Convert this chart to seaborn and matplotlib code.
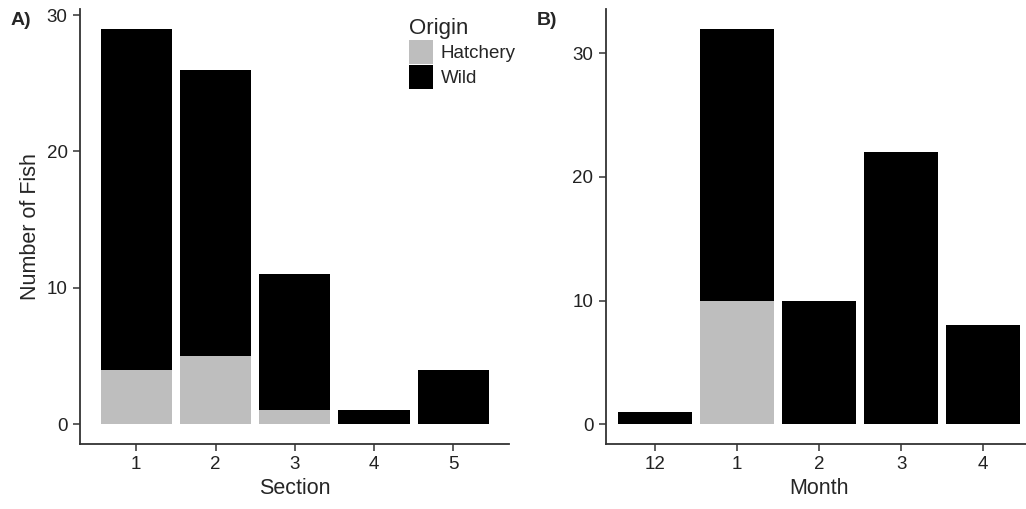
import numpy as np
import pandas as pd
import matplotlib
matplotlib.use("Agg")
import matplotlib.pyplot as plt
from matplotlib.patches import Patch
import seaborn as sns

# panel A: fish counts by river section
sections = ["1", "2", "3", "4", "5"]
hatchery_section = [4, 5, 1, 0, 0]
wild_section = [25, 21, 10, 1, 4]

# panel B: fish counts by month
months = ["12", "1", "2", "3", "4"]
hatchery_month = [0, 10, 0, 0, 0]
wild_month = [1, 22, 10, 22, 8]

grey = "#bebebe"
sns.set_style("ticks")
plt.rcParams["font.family"] = ["Liberation Sans", "DejaVu Sans"]

fig = plt.figure(figsize=(10.26, 5.09), dpi=100)
axA = fig.add_axes([0.078, 0.128, 0.4178, 0.8545])
axB = fig.add_axes([0.5906, 0.128, 0.4156, 0.8545])


def stacked(ax, cats, hatch, wild):
    total = np.array(hatch) + np.array(wild)
    df = pd.DataFrame({"cat": cats, "total": total, "hatch": hatch})
    sns.barplot(data=df, x="cat", y="total", order=cats, color="black",
                saturation=1, width=0.9, ax=ax)
    sns.barplot(data=df, x="cat", y="hatch", order=cats, color=grey,
                saturation=1, width=0.9, ax=ax)
    for p in ax.patches:
        p.set_edgecolor("none")
    for s in ["top", "right"]:
        ax.spines[s].set_visible(False)
    for s in ["left", "bottom"]:
        ax.spines[s].set_color("#333333")
        ax.spines[s].set_linewidth(1.3)
    ax.tick_params(axis="both", length=5, width=1.1, color="#333333",
                   labelsize=13.5, labelcolor="#222222", pad=4, direction="out")
    ax.set_yticks([0, 10, 20, 30])
    ax.set_facecolor("white")


stacked(axA, sections, hatchery_section, wild_section)
axA.set_xlim(-0.71, 4.7)
axA.set_ylim(-1.45, 30.45)
axA.set_xlabel("Section", fontsize=15.5, labelpad=3)
axA.set_ylabel("Number of Fish", fontsize=15.5)

stacked(axB, months, hatchery_month, wild_month)
axB.set_xlim(-0.6, 4.6)
axB.set_ylim(-1.6, 33.6)
axB.set_xlabel("Month", fontsize=15.5, labelpad=3)
axB.set_ylabel("")

handles = [Patch(facecolor=grey, edgecolor="none", label="Hatchery"),
           Patch(facecolor="black", edgecolor="none", label="Wild")]
leg = axA.legend(handles=handles, title="Origin", frameon=False,
                 loc="upper left", bbox_to_anchor=(0.75, 0.997),
                 fontsize=13.5, title_fontsize=16, handlelength=1.3,
                 handleheight=1.6, handletextpad=0.4, labelspacing=0.05,
                 borderaxespad=0)
leg._legend_box.align = "left"

fig.text(0.010, 0.96, "A)", fontsize=14, fontweight="bold", va="center")
fig.text(0.523, 0.96, "B)", fontsize=14, fontweight="bold", va="center")

fig.savefig("out.png", dpi=100, facecolor="white")
